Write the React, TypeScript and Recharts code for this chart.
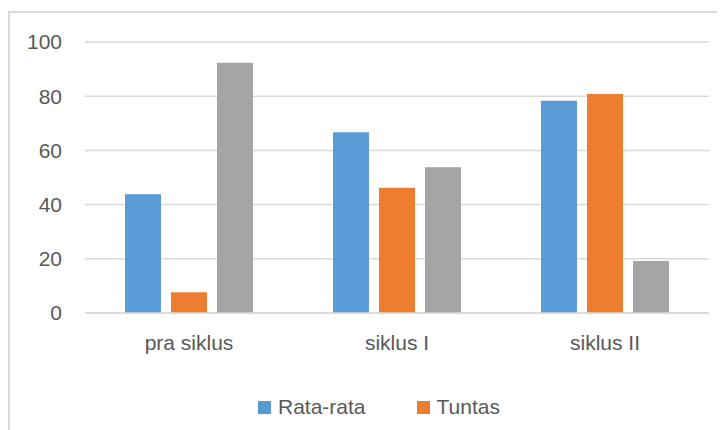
import { BarChart, Bar, XAxis, YAxis, CartesianGrid, Legend } from "recharts";

const categories = ["pra siklus", "siklus I", "siklus II"];
const rataRata = [43.8, 66.7, 78.3];
const tuntas = [7.7, 46.2, 80.8];
const belumTuntas = [92.3, 53.8, 19.2];
const yTicks = [0, 20, 40, 60, 80, 100];

const data = categories.map((name, i) => ({
  name,
  rata: rataRata[i],
  tuntas: tuntas[i],
  belum: belumTuntas[i],
}));

const FONT = "'Liberation Sans', Arial, sans-serif";
const TEXT = "#595959";
const GRID = "#d9d9d9";

function renderLegend(props: any) {
  const items = (props.payload || []).filter((p: any) => p.type !== "none");
  return (
    <div style={{ display: "flex", alignItems: "center", fontFamily: FONT, fontSize: 21, color: TEXT, height: 24 }}>
      {items.map((p: any) => (
        <div key={p.value} style={{ display: "flex", alignItems: "center", marginRight: 51 }}>
          <span style={{ width: 13, height: 13, background: p.color, display: "inline-block", marginRight: 7 }} />
          <span>{p.value}</span>
        </div>
      ))}
    </div>
  );
}

export default function App() {
  return (
    <div style={{ position: "relative", width: 717, height: 422, overflow: "hidden" }}>
      <div
        style={{
          position: "absolute",
          left: 0,
          top: 3,
          width: 740,
          height: 440,
          borderLeft: `2px solid ${GRID}`,
          borderTop: `2px solid ${GRID}`,
        }}
      />
      <BarChart
        width={717}
        height={422}
        data={data}
        margin={{ top: 34, right: 16, bottom: 0, left: 0 }}
        barSize={36}
        barGap={10}
        style={{ position: "absolute", left: 0, top: 0 }}
      >
        <CartesianGrid vertical={false} stroke={GRID} strokeWidth={1.5} />
        <YAxis
          width={77}
          domain={[0, 100]}
          ticks={yTicks}
          axisLine={false}
          tickLine={false}
          tickSize={0}
          tickMargin={23}
          tick={{ fill: TEXT, fontSize: 21, fontFamily: FONT }}
        />
        <XAxis
          dataKey="name"
          height={93}
          axisLine={{ stroke: GRID, strokeWidth: 1.5 }}
          tickLine={false}
          tickSize={0}
          tickMargin={22}
          tick={{ fill: TEXT, fontSize: 21, fontFamily: FONT }}
        />
        <Legend
          content={renderLegend}
          wrapperStyle={{ left: 250, top: 387, width: 320 }}
        />
        <Bar dataKey="rata" name="Rata-rata" fill="#5B9BD5" isAnimationActive={false} />
        <Bar dataKey="tuntas" name="Tuntas" fill="#ED7D31" isAnimationActive={false} />
        <Bar dataKey="belum" name="Belum tuntas" fill="#A5A5A5" legendType="none" isAnimationActive={false} />
      </BarChart>
    </div>
  );
}
